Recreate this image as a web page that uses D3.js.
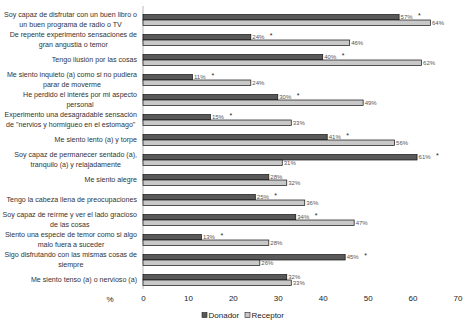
<!DOCTYPE html>
<html><head><meta charset="utf-8">
<script src="https://cdn.jsdelivr.net/npm/d3@7"></script>
<style>body{margin:0;background:#fff}svg{display:block}text{font-family:"Liberation Sans",Arial,sans-serif}</style>
</head><body><svg id="c" width="463" height="333"></svg>
<script>
const categories = [
  "Soy capaz de disfrutar con un buen libro o|un buen programa de radio o TV",
  "De repente experimento sensaciones de|gran angustia o temor",
  "Tengo ilusión por las cosas",
  "Me siento inquieto (a) como si no pudiera|parar de moverme",
  "He perdido el interés por mi aspecto|personal",
  "Experimento una desagradable sensación|de \"nervios y hormigueo en el estomago\"",
  "Me siento lento (a) y torpe",
  "Soy capaz de permanecer sentado (a),|tranquilo (a) y relajadamente",
  "Me siento alegre",
  "Tengo la cabeza llena de preocupaciones",
  "Soy capaz de reírme y ver el lado gracioso|de las cosas",
  "Siento una especie de temor  como si algo|malo fuera a suceder",
  "Sigo disfrutando con las mismas cosas de|siempre",
  "Me siento tenso (a) o nervioso (a)"
];
const donador  = [57, 24, 40, 11, 30, 15, 41, 61, 28, 25, 34, 13, 45, 32];
const receptor = [64, 46, 62, 24, 49, 33, 56, 31, 32, 36, 47, 28, 26, 33];
const significant = [true, true, true, true, true, true, true, true, false, true, true, true, true, false];
const seriesNames = ["Donador", "Receptor"];
const seriesColors = ["#595959", "#c8c8c8"];
const xTicks = [0, 10, 20, 30, 40, 50, 60, 70];

const svg = d3.select("#c");
const x = d3.scaleLinear().domain([0, 70]).range([143, 457.5]);
const y = d3.scaleBand().domain(categories).range([10, 290]).padding(0);
const ys = d3.scaleBand().domain(seriesNames).range([0, y.bandwidth()]).paddingInner(0).paddingOuter(0.82);
const color = d3.scaleOrdinal().domain(seriesNames).range(seriesColors);

const rows = categories.map((c, i) => ({cat: c, vals: [donador[i], receptor[i]], sig: significant[i]}));

// category labels
const labelRight = 137;
rows.forEach(r => {
  const lines = r.cat.split("|");
  const cy = y(r.cat) + y.bandwidth() / 2;
  const g = svg.append("g");
  const texts = lines.map((ln, j) => g.append("text")
    .attr("font-size", 7.1).attr("fill", "#333")
    .attr("text-anchor", "middle")
    .attr("dominant-baseline", "central")
    .attr("y", cy + (j - (lines.length - 1) / 2) * 9.2)
    .text(ln));
  const w = d3.max(texts, t => t.node().getComputedTextLength());
  texts.forEach(t => t.attr("x", labelRight - w / 2));
});

// vertical axis line
svg.append("line").attr("x1", x(0)).attr("x2", x(0)).attr("y1", 6).attr("y2", 289)
  .attr("stroke", "#b8b8b8").attr("stroke-width", 1);

// bars
rows.forEach(r => {
  seriesNames.forEach((s, k) => {
    svg.append("rect")
      .attr("x", x(0)).attr("y", y(r.cat) + ys(s))
      .attr("width", x(r.vals[k]) - x(0)).attr("height", ys.bandwidth())
      .attr("fill", color(s)).attr("stroke", "#111").attr("stroke-width", 0.7);
    svg.append("text")
      .attr("x", x(r.vals[k]) + 1.5)
      .attr("y", y(r.cat) + ys(s) + ys.bandwidth() / 2)
      .attr("dominant-baseline", "central")
      .attr("font-size", 6).attr("fill", "#555")
      .text(r.vals[k] + "%");
  });
  if (r.sig) {
    svg.append("text")
      .attr("x", x(r.vals[0]) + 19)
      .attr("y", y(r.cat) + ys("Donador") + 3)
      .attr("font-size", 7).attr("fill", "#222")
      .text("*");
  }
});

// x axis
const ax = svg.append("g").attr("transform", "translate(0,291)")
  .call(d3.axisBottom(x).tickValues(xTicks).tickSize(0).tickPadding(4).tickFormat(d3.format("d")));
ax.select(".domain").remove();
ax.selectAll("text").attr("font-size", 8).attr("fill", "#222").attr("font-family", "Liberation Sans, Arial, sans-serif");
svg.append("text").attr("x", 110).attr("y", 299).attr("dominant-baseline", "central")
  .attr("text-anchor", "middle").attr("font-size", 8).attr("fill", "#222").text("%");

// legend
const legX = [202, 245];
seriesNames.forEach((s, k) => {
  svg.append("rect").attr("x", legX[k]).attr("y", 312.5).attr("width", 5).attr("height", 5)
    .attr("fill", color(s)).attr("stroke", "#222").attr("stroke-width", 0.6);
  svg.append("text").attr("x", legX[k] + 6.5).attr("y", 315.3).attr("dominant-baseline", "central")
    .attr("font-size", 8).attr("fill", "#222").text(s);
});
</script></body></html>
